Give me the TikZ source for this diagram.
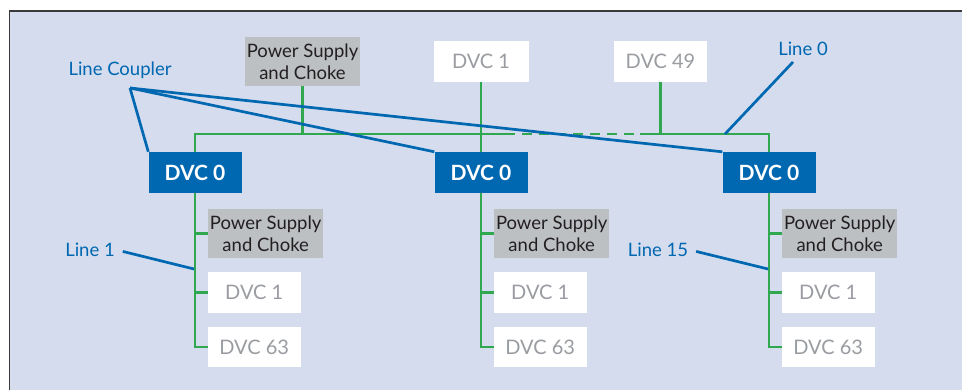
\documentclass[tikz,border=0pt]{standalone}
\usepackage{fontspec}
\setmainfont{Lato}
\usetikzlibrary{calc}
\definecolor{bgc}{HTML}{D4DCEE}
\definecolor{framec}{HTML}{3A3A3A}
\definecolor{dvcblue}{HTML}{0067B1}
\definecolor{busgreen}{HTML}{2FA84F}
\definecolor{psgray}{HTML}{BCC0C3}
\definecolor{darktext}{HTML}{231F20}
\definecolor{dvcgray}{HTML}{999CA1}
\begin{document}
\begin{tikzpicture}[x=1pt,y=-1pt,
  box/.style={inner sep=0pt, align=center, font=\fontsize{18.5}{22}\selectfont},
  psbox/.style={box, fill=psgray, text=darktext, minimum width=115pt, minimum height=49pt},
  dvcbox/.style={box, fill=white, text=dvcgray, font=\fontsize{20}{22}\selectfont, minimum width=93pt, minimum height=41pt},
  coupler/.style={box, fill=dvcblue, text=white, font=\fontsize{21}{22}\selectfont\bfseries, minimum width=93pt, minimum height=41pt},
  lbl/.style={text=dvcblue, font=\fontsize{18.5}{22}\selectfont, inner sep=2pt},
  bus/.style={draw=busgreen, line width=2.5pt},
  lead/.style={draw=dvcblue, line width=2.7pt}]
\useasboundingbox (0,0) rectangle (965,390);
% frame
\fill[bgc] (9.5,11) rectangle (962,395);
\draw[framec, line width=1.2pt] (9.5,395) -- (9.5,11) -- (962,11);

% top row
\node[psbox]  (ps0)  at (302.5,61.5) {Power Supply\\and Choke};
\node[dvcbox, minimum width=95pt] (t1) at (481,61.5) {DVC 1};
\node[dvcbox] (t49) at (660.5,61.5) {DVC 49};

% couplers
\node[coupler] (cA) at (195,172.5) {DVC 0};
\node[coupler] (cB) at (481,172.5) {DVC 0};
\node[coupler] (cC) at (769,172.5) {DVC 0};

% line devices
\foreach \n/\x in {A/195,B/481,C/769}{
  \node[psbox, anchor=west]  (ps\n) at (\x+13,233.5) {Power Supply\\and Choke};
  \node[dvcbox, anchor=west] (d1\n) at (\x+12.5,292.5) {DVC 1};
  \node[dvcbox, anchor=west, minimum height=40pt] (d63\n) at (\x+12.5,347) {DVC 63};
}

% labels
\node[lbl] (lc)  at (120,70)  {Line Coupler};
\node[lbl] (l0)  at (803,49)  {Line 0};
\node[lbl] (l1)  at (90,250)  {Line 1};
\node[lbl] (l15) at (658,250) {Line 15};

% coordinates
\coordinate (busL) at (195,134);
\coordinate (busR) at (769,134);
\coordinate (dS) at (505,134);
\coordinate (dE) at (640,134);
\coordinate (lcp) at (130,88);
\coordinate (l0p) at (793,62);
\coordinate (l0e) at (725,134);
\coordinate (l1e) at (194,269);
\coordinate (l15e) at (768,269);

% green main line
\draw[bus] (cA.north) -- (busL) -- (dS);
\draw[bus, dash pattern=on 10pt off 7pt] (dS) -- (dE);
\draw[bus] (dE) -- (busR) -- (cC.north);
\draw[bus] (ps0.south) -- (ps0.south |- busL);
\draw[bus] (t1.south) -- (cB.north);
\draw[bus] (t49.south) -- (t49.south |- busL);

% green line branches
\foreach \n in {A,B,C}{
  \draw[bus] (c\n.south) |- (d63\n.west);
  \draw[bus] (ps\n.west) -- (ps\n.west -| c\n.south);
  \draw[bus] (d1\n.west) -- (d1\n.west -| c\n.south);
}

% blue leads
\draw[lead] (lcp) -- (cA.north west);
\draw[lead] (lcp) -- (cB.north west);
\draw[lead] (lcp) -- (cC.north west);
\draw[lead] (l0p) -- (l0e);
\draw[lead, shorten <=6pt] (l1.east) -- (l1e);
\draw[lead, shorten <=6pt] (l15.east) -- (l15e);
\end{tikzpicture}
\end{document}
